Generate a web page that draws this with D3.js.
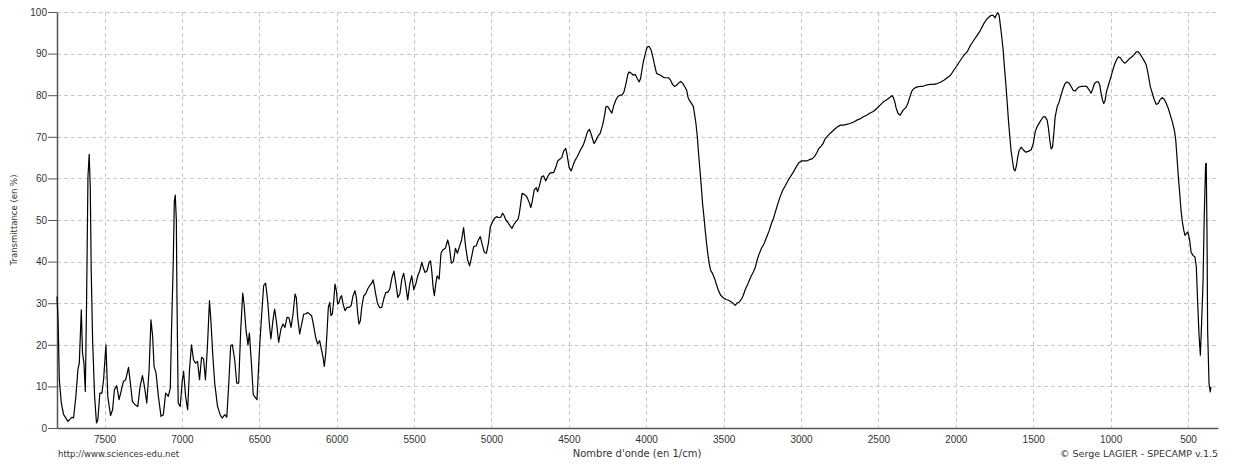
<!DOCTYPE html>
<html>
<head>
<meta charset="utf-8">
<script src="https://cdn.jsdelivr.net/npm/d3@7"></script>
<style>
  body { margin: 0; background: #fff; }
  svg { display: block; font-family: "DejaVu Sans", Verdana, sans-serif; }
</style>
</head>
<body>
<div id="chart"></div>
<script>
/* Spectrum: [wave number (1/cm), transmittance (%)] */
const nearIR = [[7807,31.6],[7800,26],[7792,11.6],[7779,6],[7764,3.2],[7736,1.6],[7710,2.6],[7700,2.4],[7685,7.6],[7672,14],[7663,15.6],[7650,28.4],[7642,18],[7633,15.6],[7624,8.8],[7616,30],[7607,60.4],[7599,65.8],[7592,57.6],[7586,38],[7577,21.2],[7564,7.6],[7552,1.2],[7543,2],[7530,8.4],[7517,8.4],[7506,11.6],[7491,20],[7479,7.6],[7461,3],[7448,4.4],[7436,9.2],[7421,10.2],[7406,6.8],[7393,8.8],[7378,11.2],[7363,11.6],[7345,14.6],[7333,10.8],[7320,6.4],[7303,5.6],[7285,5.2],[7270,10],[7255,12.6],[7242,10],[7227,6],[7212,14],[7200,26],[7189,22],[7180,14.8],[7167,13.2],[7152,7.6],[7135,2.8],[7120,3.2],[7105,8.4],[7088,7.6],[7075,9.6],[7067,23.6],[7056,39.6],[7049,54.4],[7043,56],[7036,50],[7032,31.6],[7024,6],[7011,5.2],[6998,11.2],[6989,13.6],[6976,7.6],[6963,4.4],[6951,14],[6938,20],[6925,16.4],[6912,15.6],[6899,16],[6886,11.6],[6873,17],[6860,16.6],[6848,11.6],[6835,19.6],[6822,30.6],[6813,26],[6800,17.2],[6788,10.8],[6770,5.2],[6753,3.2],[6740,2.4],[6723,3.2],[6710,2.6],[6697,10.8],[6685,19.8],[6674,20],[6659,16.4],[6646,10.8],[6633,10.8],[6620,23.6],[6607,32.4],[6599,30],[6586,23.6],[6573,20],[6564,22.8],[6551,15.6],[6539,8]];

const overtones = [[6515,6.8],[6498,19.4],[6483,28.2],[6472,34.2],[6459,34.8],[6446,30.6],[6433,24.2],[6425,21.4],[6412,25.8],[6401,28.6],[6390,25.8],[6375,20.6],[6360,23.8],[6347,25],[6334,24.2],[6321,26.6],[6308,26.5],[6295,24.2],[6282,27.4],[6269,32.2],[6261,31.4],[6252,26.6],[6239,22.6],[6226,25],[6213,27.4],[6200,27.4],[6188,27.8],[6175,27.4],[6162,27],[6149,24.6],[6136,21.8],[6123,20.2],[6110,21],[6097,18.6],[6088,17],[6080,14.8],[6071,17.8],[6063,22.6],[6054,29],[6045,30.2],[6037,27],[6028,27.4],[6019,30.6],[6011,34.6],[6002,33],[5994,29.8],[5985,30.2],[5976,31.4],[5968,31.8],[5959,29.8],[5946,28.2],[5933,29],[5920,29],[5907,29.4],[5894,31.8],[5882,33],[5873,31.4],[5864,27.4],[5856,25],[5847,25.8],[5838,29],[5825,31.8],[5813,32.2],[5800,33.4],[5787,34.2],[5774,34.8],[5765,35.6],[5757,34.2],[5748,32.2],[5735,29.8],[5722,28.9],[5709,29],[5696,31],[5683,32.6],[5670,32.6],[5657,33.4],[5643,36.2],[5630,37.7],[5617,34.6],[5605,31.4],[5592,32.2],[5579,35.8],[5567,37.2],[5554,34.2],[5541,30.8],[5528,34.6],[5515,36.6],[5502,33.2],[5489,34.6],[5476,36.6],[5463,37.8],[5450,39.8],[5441,38.6],[5429,37.4],[5416,37.8],[5403,39.8],[5394,40.2],[5385,37.4],[5377,33.8],[5369,31.8],[5360,34.6],[5351,36.6],[5338,35.8]];

const rising = [[5326,42],[5315,42.8],[5298,43.2],[5283,45.2],[5272,43.6],[5259,39.6],[5246,40],[5233,43.2],[5220,42],[5207,43.6],[5193,45.2],[5180,48.2],[5167,43.6],[5154,40.4],[5141,39],[5128,41.2],[5115,43.6],[5098,43.8],[5085,45.2],[5072,46],[5059,44],[5046,42.2],[5033,42],[5020,44.4],[5007,48.4],[4993,49.6],[4980,50.4],[4967,50.8],[4954,50.6],[4941,50.6],[4928,51.6],[4920,51.2],[4907,50],[4893,49.4],[4880,48.6],[4867,48],[4854,49],[4841,49.6],[4828,50.2],[4820,51.6],[4811,54],[4802,56.4],[4789,56.2],[4776,55.8],[4767,55.2],[4754,54],[4746,53],[4737,54.4],[4724,57.2],[4711,57.8],[4702,56.8],[4689,58.4],[4676,60.4],[4663,60.6],[4650,59.4],[4637,60.4],[4624,61.2],[4611,61.4],[4598,61.4],[4585,62.6],[4572,64.2],[4559,64.6],[4546,65],[4533,66.6],[4520,67.2],[4511,65.6],[4498,62.6],[4485,61.8],[4472,63.2],[4459,64.4],[4446,65.2],[4433,66.2],[4420,67.2],[4407,68],[4394,69.4],[4380,71.2],[4367,71.8],[4354,70.4],[4346,69.4],[4337,68.4],[4324,69.2],[4311,70.2],[4298,70.8]];

const ohBand = [[4282,72.8],[4269,75.2],[4261,77.2],[4248,77.3],[4235,76.4],[4222,75.7],[4209,77.6],[4196,78.9],[4183,79.7],[4170,80],[4157,80],[4144,80.8],[4131,82.8],[4119,85],[4110,85.6],[4097,85.3],[4084,84.8],[4071,85],[4058,84],[4045,83.2],[4037,84],[4028,86],[4019,88],[4006,90],[3994,91.6],[3981,91.7],[3968,90.8],[3955,88.8],[3946,87.2],[3933,85.2],[3920,85],[3907,84.8],[3894,84.4],[3881,84.2],[3869,84.2],[3856,84.2],[3843,83.6],[3830,82.6],[3817,82.1],[3804,82.4],[3791,82.9],[3778,83.3],[3765,82.9],[3752,82.1],[3739,81.2],[3731,79.6],[3722,78.8],[3709,78.1],[3696,77.3],[3687,75.2],[3679,73.2],[3670,70],[3662,66],[3653,62],[3644,57.9],[3636,53.9],[3627,50.7],[3619,47.5],[3610,44.3],[3601,41.5],[3593,39.5],[3584,37.9],[3571,37.1],[3558,35.9],[3545,34.3],[3532,32.9],[3519,31.9],[3502,31.3],[3485,30.9],[3468,30.7],[3450,30.3],[3437,29.9],[3425,29.5],[3412,30.1],[3399,30.3],[3386,30.9],[3373,31.9],[3360,33.3],[3343,34.7],[3325,36.3],[3308,37.5],[3295,38.7],[3287,39.9],[3274,41.5],[3257,43.1],[3239,44.3],[3222,45.9],[3205,47.5],[3192,49.1],[3179,50.3],[3166,51.9],[3153,53.5],[3136,55.5],[3119,57.1],[3101,58.3],[3084,59.5],[3067,60.5],[3050,61.5],[3032,62.7],[3015,63.7],[2998,64.2],[2981,64.2],[2963,64.2],[2946,64.5],[2929,64.7],[2912,65.3],[2899,66.1],[2886,67.1],[2869,67.8],[2856,68.5],[2843,69.6],[2830,70.1],[2813,70.8],[2795,71.4],[2778,72],[2761,72.5],[2744,72.8],[2726,72.8],[2705,73],[2683,73.2],[2662,73.5],[2640,74],[2619,74.3],[2597,74.8],[2576,75.2],[2554,75.7],[2533,76.1],[2511,76.8],[2489,77.6],[2468,78.4],[2446,78.9],[2429,79.4],[2412,79.9],[2403,79.4],[2394,78.4],[2386,77],[2373,75.6],[2360,75.2]];

const fingerprint = [[2340,76.4],[2323,77],[2310,78],[2297,79.6],[2284,81],[2271,81.6],[2250,82],[2228,82.1],[2207,82.2],[2185,82.5],[2164,82.6],[2142,82.6],[2121,82.8],[2099,83.1],[2077,83.6],[2056,84.2],[2034,84.8],[2013,86],[1991,87.2],[1970,88.4],[1948,89.6],[1927,90.4],[1905,92],[1884,93.2],[1862,94.4],[1841,95.6],[1819,97.2],[1802,98.2],[1785,98.8],[1772,99.2],[1759,99.2],[1746,98.6],[1737,99.4],[1729,99.8],[1720,99.2],[1712,96.8],[1703,94],[1694,90.8],[1686,86.8],[1677,82.8],[1669,78.8],[1660,74],[1651,70],[1643,66.7],[1634,64.3],[1626,62.3],[1617,61.8],[1608,63.1],[1600,65.1],[1591,66.7],[1578,67.5],[1565,66.9],[1548,66.3],[1531,66.5],[1513,66.9],[1500,68.3],[1487,71.2],[1474,72.5],[1461,73.3],[1448,74.1],[1435,74.8],[1422,74.8],[1410,74],[1401,72],[1393,69.2],[1384,67.1],[1375,67.5],[1367,70.7],[1358,74.8],[1345,77.2],[1332,78.4],[1320,80],[1307,81.6],[1294,82.8],[1281,83.2],[1268,82.9],[1255,82.1],[1242,81.2],[1229,81],[1216,81.6],[1203,82],[1190,82.1],[1177,82.1],[1164,82.2],[1152,82],[1139,81.3],[1126,80.5],[1117,81.3],[1104,82.8],[1091,83.2],[1078,83.2],[1070,82.4],[1061,80.4],[1052,78.8],[1044,78],[1035,78.8],[1027,80.8],[1014,82.4],[1001,84],[989,85.6],[976,87.2],[963,88.4],[950,89.2],[937,89],[923,88.2],[910,87.7],[898,88],[885,88.5],[872,89],[859,89.3],[847,89.8],[834,90.4],[821,90.4],[808,89.8],[795,89],[782,88.2],[769,87.2],[756,84.8],[743,82],[730,80.4],[717,78.8],[705,77.8],[692,78],[679,79],[666,79.4],[653,79],[640,78],[627,76.8],[614,75.2],[601,73.6],[588,71.6],[579,69.2],[571,65.1],[562,60.3],[553,56.3],[545,52.3],[536,49.5],[527,47.5],[519,46.3],[510,46.7],[502,47.1],[498,46.7],[489,45.1],[480,42.3],[468,41.5],[455,41.1],[446,38.7],[438,30.7],[429,22.7],[420,17.5],[412,25.2],[403,34.7],[395,50.7],[386,63.5],[382,63.6],[377,46.7],[373,23.5],[364,10.7],[356,8.7],[352,9.9]];

const xTicks = [7500, 7000, 6500, 6000, 5500, 5000, 4500, 4000, 3500, 3000, 2500, 2000, 1500, 1000, 500];
const yTicks = [0, 10, 20, 30, 40, 50, 60, 70, 80, 90, 100];
const xDomain = [7807, 306];

const spectrum = [].concat(nearIR, overtones, rising, ohBand, fingerprint);

const width = 1236, height = 466;
const margins = { top: 12, right: 18, bottom: 38, left: 57 };

const svg = d3.select("#chart")
  .append("svg")
  .attr("width", width)
  .attr("height", height);

svg.append("rect").attr("width", width).attr("height", height).attr("fill", "#fff");

const xScale = d3.scaleLinear()
  .domain(xDomain)
  .range([margins.left, width - margins.right]);

const yScale = d3.scaleLinear()
  .domain([0, 100])
  .range([height - margins.bottom, margins.top]);

// dashed grid
const grid = svg.append("g")
  .attr("stroke", "#c8c8c8")
  .attr("stroke-width", 1)
  .attr("stroke-dasharray", "4,3");

grid.selectAll("line.h")
  .data(yTicks.filter(d => d > 0))
  .join("line")
  .attr("class", "h")
  .attr("x1", margins.left)
  .attr("x2", width - margins.right)
  .attr("y1", d => Math.round(yScale(d)) + 0.5)
  .attr("y2", d => Math.round(yScale(d)) + 0.5);

grid.selectAll("line.v")
  .data(xTicks)
  .join("line")
  .attr("class", "v")
  .attr("x1", d => Math.round(xScale(d)) + 0.5)
  .attr("x2", d => Math.round(xScale(d)) + 0.5)
  .attr("y1", margins.top)
  .attr("y2", height - margins.bottom);

// axes
const yAxis = d3.axisLeft(yScale)
  .tickValues(yTicks)
  .tickSizeInner(9)
  .tickSizeOuter(0)
  .tickPadding(1);

const yGroup = svg.append("g")
  .attr("transform", `translate(${margins.left},0)`)
  .call(yAxis);

yGroup.select(".domain").attr("stroke", "#555").attr("stroke-width", 1.5);
yGroup.selectAll(".tick line").attr("stroke", "#555");
yGroup.selectAll("text")
  .attr("fill", "#333")
  .style("font-size", "10px");

const xAxis = d3.axisBottom(xScale)
  .tickValues(xTicks)
  .tickFormat(d3.format("d"))
  .tickSize(0)
  .tickPadding(8);

const xGroup = svg.append("g")
  .attr("transform", `translate(0,${height - margins.bottom})`)
  .call(xAxis);

xGroup.select(".domain").attr("stroke", "#555").attr("stroke-width", 1.5);
xGroup.selectAll("text")
  .attr("fill", "#333")
  .style("font-size", "10px");

// the spectrum
const line = d3.line()
  .x(d => xScale(d[0]))
  .y(d => yScale(d[1]));

svg.append("path")
  .datum(spectrum)
  .attr("fill", "none")
  .attr("stroke", "#000")
  .attr("stroke-width", 1.2)
  .attr("stroke-linejoin", "round")
  .attr("d", line);

// titles and credits
svg.append("text")
  .attr("transform", `translate(17,${(margins.top + height - margins.bottom) / 2}) rotate(-90)`)
  .attr("text-anchor", "middle")
  .attr("fill", "#333")
  .style("font-size", "8.5px")
  .text("Transmittance (en %)");

svg.append("text")
  .attr("x", 637)
  .attr("y", 457)
  .attr("text-anchor", "middle")
  .attr("fill", "#333")
  .style("font-size", "10px")
  .text("Nombre d'onde (en 1/cm)");

svg.append("text")
  .attr("x", 58)
  .attr("y", 457)
  .attr("fill", "#333")
  .style("font-size", "8.5px")
  .text("http://www.sciences-edu.net");

svg.append("text")
  .attr("x", width - margins.right)
  .attr("y", 457)
  .attr("text-anchor", "end")
  .attr("fill", "#333")
  .style("font-size", "9.5px")
  .text("© Serge LAGIER - SPECAMP v.1.5");
</script>
</body>
</html>
